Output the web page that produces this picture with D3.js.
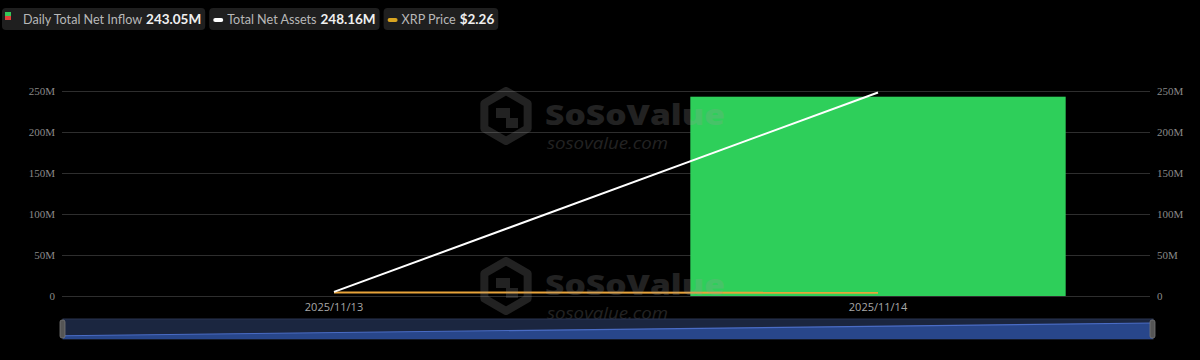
<!DOCTYPE html>
<html>
<head>
<meta charset="utf-8">
<script src="https://cdn.jsdelivr.net/npm/d3@7"></script>
<style>
  html, body { margin: 0; padding: 0; background: #000; }
  svg { display: block; }
</style>
</head>
<body>
<svg id="chart" width="1200" height="360"></svg>
<script>
// ---- data ----
const dates = ["2025/11/13", "2025/11/14"];
const netInflow = [0, 243.05e6];
const totalNetAssets = [5.0e6, 248.16e6];
const xrpPrice = [2.33, 2.26];
const yTicks = [0, 50e6, 100e6, 150e6, 200e6, 250e6];
const yTickLabels = ["0", "50M", "100M", "150M", "200M", "250M"];
const legendItems = [
  { name: "Daily Total Net Inflow", value: "243.05M", type: "bar" },
  { name: "Total Net Assets", value: "248.16M", type: "white" },
  { name: "XRP Price", value: "$2.26", type: "orange" }
];

(function () {
const svg = d3.select("#chart");
const pLeft = 62, pRight = 1150, pTop = 91, pBottom = 296;

const x = d3.scaleBand().domain(dates).range([pLeft, pRight]).padding(0);
const y = d3.scaleLinear().domain([0, 250e6]).range([pBottom, pTop]);
const yPrice = d3.scaleLinear().domain([0, 140]).range([pBottom, pTop]);

// gridlines
const gGrid = svg.append("g");
gGrid.selectAll("line").data(yTicks).join("line")
  .attr("x1", pLeft).attr("x2", pRight)
  .attr("y1", d => Math.round(y(d)) + 0.5).attr("y2", d => Math.round(y(d)) + 0.5)
  .attr("stroke", "#2e2e2e").attr("stroke-width", 1);

// axis labels
const axisFont = "'Liberation Serif', 'DejaVu Serif', serif";
const leftAxis = d3.axisLeft(y).tickValues(yTicks).tickFormat((d, i) => yTickLabels[i]).tickSize(0).tickPadding(7);
const gL = svg.append("g").attr("transform", `translate(${pLeft},0)`).call(leftAxis);
gL.select(".domain").remove();
gL.selectAll("text").attr("fill", "#8a8a8a").style("font-family", axisFont).style("font-size", "11px");

const rightAxis = d3.axisRight(y).tickValues(yTicks).tickFormat((d, i) => yTickLabels[i]).tickSize(0).tickPadding(7);
const gR = svg.append("g").attr("transform", `translate(${pRight},0)`).call(rightAxis);
gR.select(".domain").remove();
gR.selectAll("text").attr("fill", "#8a8a8a").style("font-family", axisFont).style("font-size", "11px");

const xAxis = d3.axisBottom(x).tickSize(0).tickPadding(7);
const gX = svg.append("g").attr("transform", `translate(0,${pBottom})`).call(xAxis);
gX.select(".domain").remove();
gX.selectAll("text").attr("fill", "#a8a8a8").style("font-family", "'Open Sans', sans-serif").style("font-size", "11px");

// bars
const barW = x.bandwidth() * 0.69;
svg.append("g").selectAll("rect").data(dates.map((d, i) => ({ d, v: netInflow[i] })).filter(o => o.v !== 0)).join("rect")
  .attr("x", o => x(o.d) + (x.bandwidth() - barW) / 2)
  .attr("width", barW)
  .attr("y", o => y(Math.max(0, o.v)))
  .attr("height", o => Math.abs(y(0) - y(o.v)))
  .attr("fill", o => o.v >= 0 ? "#2ecf5a" : "#e0403a");

// lines
const cx = d => x(d) + x.bandwidth() / 2;
svg.append("path")
  .datum(dates.map((d, i) => [cx(d), yPrice(xrpPrice[i])]))
  .attr("d", d3.line())
  .attr("fill", "none").attr("stroke", "#e8a33a").attr("stroke-width", 2);
svg.append("path")
  .datum(dates.map((d, i) => [cx(d), y(totalNetAssets[i])]))
  .attr("d", d3.line())
  .attr("fill", "none").attr("stroke", "#ffffff").attr("stroke-width", 2);

// watermarks
function watermark(cxp, cyp) {
  const g = svg.append("g").attr("opacity", 0.22).attr("pointer-events", "none");
  const r = 25;
  const hex = d3.range(6).map(k => {
    const a = Math.PI / 3 * k - Math.PI / 2;
    return [cxp - 96 + r * Math.cos(a), cyp + r * Math.sin(a)];
  });
  g.append("path").attr("d", "M" + hex.join("L") + "Z")
    .attr("fill", "none").attr("stroke", "#9a9a9a").attr("stroke-width", 8).attr("stroke-linejoin", "round");
  g.append("path")
    .attr("d", `M${cxp - 106},${cyp - 8} h14 v10 h8 v10 h-12 v-10 h-10 z`)
    .attr("fill", "#9a9a9a");
  g.append("text").attr("x", cxp - 57).attr("y", cyp + 9)
    .text("SoSoValue").attr("fill", "#9a9a9a")
    .style("font-family", "'Open Sans', sans-serif").style("font-weight", "800").style("font-size", "29px")
    .attr("textLength", 180).attr("lengthAdjust", "spacingAndGlyphs");
  g.append("text").attr("x", cxp - 55).attr("y", cyp + 33)
    .text("sosovalue.com").attr("fill", "#9a9a9a")
    .style("font-family", "'Open Sans', sans-serif").style("font-style", "italic").style("font-size", "16px")
    .attr("textLength", 121).attr("lengthAdjust", "spacingAndGlyphs");
}
watermark(602, 116);
watermark(602, 286);

// data zoom slider
const sL = 63, sR = 1153, sT = 319, sB = 339;
svg.append("rect").attr("x", sL).attr("y", sT).attr("width", sR - sL).attr("height", sB - sT)
  .attr("fill", "#1b2640").attr("stroke", "#2a3550").attr("stroke-width", 1);
const sx = d3.scalePoint().domain(dates).range([sL, sR]);
const sy = d3.scaleLinear().domain([0, 248.16e6]).range([sB - 3, sT + 4]);
svg.append("path")
  .datum(dates.map((d, i) => [sx(d), sy(totalNetAssets[i])]))
  .attr("d", d3.area().y0(sB).y1(d => d[1]).x(d => d[0]))
  .attr("fill", "#2a4a92").attr("opacity", 0.9);
svg.append("path")
  .datum(dates.map((d, i) => [sx(d), sy(totalNetAssets[i])]))
  .attr("d", d3.line())
  .attr("fill", "none").attr("stroke", "#4a6cc4").attr("stroke-width", 1.2);
[sL, sR].forEach(hx => {
  svg.append("rect").attr("x", hx - 3).attr("y", sT + 1).attr("width", 5).attr("height", sB - sT - 2)
    .attr("rx", 2).attr("fill", "#555").attr("stroke", "#777").attr("stroke-width", 0.8);
});

// legend
const lg = svg.append("g");
let lx = 2;
legendItems.forEach(it => {
  const g = lg.append("g");
  const textOff = it.type === "bar" ? 21 : 18;
  const t1 = g.append("text").attr("x", lx + textOff).attr("y", 24).text(it.name)
    .attr("fill", "#b8b8b8").style("font-family", "Lato, sans-serif").style("font-size", "12.6px");
  const w1 = t1.node().getComputedTextLength();
  const t2 = g.append("text").attr("x", lx + textOff + w1 + 4).attr("y", 24).text(it.value)
    .attr("fill", "#f0f0f0").style("font-family", "Lato, sans-serif").style("font-weight", "700").style("font-size", "13.5px");
  const w2 = t2.node().getComputedTextLength();
  const boxW = textOff + w1 + 4 + w2 + 4;
  g.insert("rect", "text").attr("x", lx).attr("y", 8).attr("width", boxW).attr("height", 22)
    .attr("rx", 4).attr("fill", "#1f1f1f");
  if (it.type === "bar") {
    g.append("rect").attr("x", lx + 3).attr("y", 12).attr("width", 6).attr("height", 4).attr("fill", "#35c759");
    g.append("rect").attr("x", lx + 3).attr("y", 16).attr("width", 6).attr("height", 4).attr("fill", "#e0403a");
  } else {
    g.append("rect").attr("x", lx + 4).attr("y", 18).attr("width", 10).attr("height", 4).attr("rx", 2)
      .attr("fill", it.type === "white" ? "#ffffff" : "#d9a521");
  }
  lx += boxW + 4;
});
})();
</script>
</body>
</html>
